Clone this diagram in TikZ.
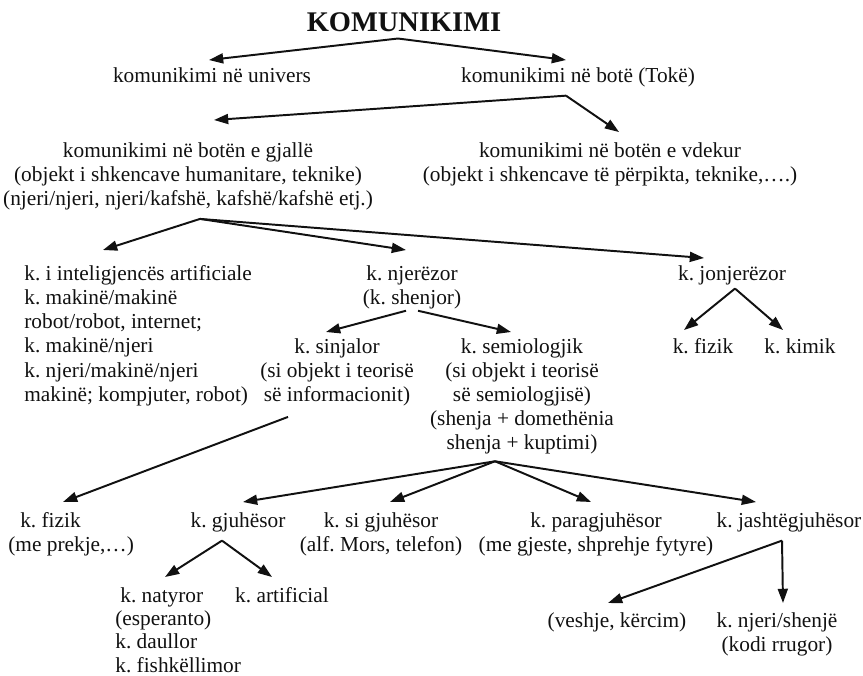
\documentclass[tikz,border=0pt]{standalone}
\usepackage{fontspec}
\setmainfont{Liberation Serif}
\usetikzlibrary{arrows.meta,calc}
\definecolor{KomInk}{HTML}{111111}
\newcommand{\KomTitle}{\fontsize{16}{18}\selectfont\bfseries}
\newcommand{\KomText}{\fontsize{12}{13.6}\selectfont\frenchspacing}
\newcommand{\KomTight}{\fontsize{12}{13.1}\selectfont\frenchspacing}
\tikzset{
  kombox/.style={
    align=center,
    anchor=north,
    inner sep=0pt,
    text=KomInk,
    font=\KomText
  },
  komleft/.style={kombox, align=left, anchor=north west},
  komarrow/.style={
    -{Triangle[length=8pt,width=5.6pt]},
    draw=KomInk,
    line width=1.1pt
  }
}
\begin{document}
\begin{tikzpicture}[x=0.5625pt,y=0.5625pt]
\path[use as bounding box] (0,-675) rectangle (863,0);

\node[kombox, anchor=center, font=\KomTitle] (title) at (404,-22) {KOMUNIKIMI};
\node[kombox] (univers) at (212,-67) {komunikimi në univers};
\node[kombox] (bote) at (578,-67) {komunikimi në botë (Tokë)};

\node[kombox] (gjalle) at (188,-142)
  {komunikimi në botën e gjallë\\
  (objekt i shkencave humanitare, teknike)\\
  (njeri/njeri, njeri/kafshë, kafshë/kafshë etj.)};
\node[kombox] (vdekur) at (610,-142)
  {komunikimi në botën e vdekur\\
  (objekt i shkencave të përpikta, teknike,….)};

\node[komleft] (inteligj) at (24,-265)
  {k. i inteligjencës artificiale\\
  k. makinë/makinë\\
  robot/robot, internet;\\
  k. makinë/njeri\\
  k. njeri/makinë/njeri\\
  makinë; kompjuter, robot)};
\node[kombox] (njerezor) at (412,-265) {k. njerëzor\\(k. shenjor)};
\node[kombox] (jonjerezor) at (732,-265) {k. jonjerëzor};

\node[kombox] (sinjalor) at (337,-338)
  {k. sinjalor\\
  (si objekt i teorisë\\
  së informacionit)};
\node[kombox] (semiologjik) at (522,-338)
  {k. semiologjik\\
  (si objekt i teorisë\\
  së semiologjisë)\\
  (shenja + domethënia\\
  shenja + kuptimi)};
\node[kombox] (fizikA) at (703,-338) {k. fizik};
\node[kombox] (kimik) at (800,-338) {k. kimik};

\node[komleft] (fizikB) at (8,-512) {\hspace{6.7pt}k. fizik\\(me prekje,…)};
\node[kombox] (gjuhesor) at (238,-512) {k. gjuhësor};
\node[kombox] (sigjuhesor) at (381,-512) {k. si gjuhësor\\(alf. Mors, telefon)};
\node[kombox] (paragjuhesor) at (596,-512) {k. paragjuhësor\\(me gjeste, shprehje fytyre)};
\node[kombox] (jashte) at (789,-512) {k. jashtëgjuhësor};

\node[komleft, font=\KomTight] (natyror) at (115,-587)
  {\hspace{2.8pt}k. natyror\\
  (esperanto)\\
  k. daullor\\
  k. fishkëllimor};
\node[kombox] (artificial) at (282,-587) {k. artificial};
\node[kombox] (veshje) at (617,-612) {(veshje, kërcim)};
\node[kombox] (njerishenje) at (777,-612) {k. njeri/shenjë\\(kodi rrugor)};

% fork points under the parent nodes
\coordinate (titlefork) at ($(title.south)+(-6,-6.6)$);
\coordinate (botefork) at ($(bote.south)+(-12,-8.6)$);
\coordinate (gjallefork) at ($(gjalle.south)+(12,-8.5)$);
\coordinate (jonjerezorfork) at ($(jonjerezor.south)+(3,-3.5)$);
\coordinate (semiofork) at ($(semiologjik.south)+(-27,-6.5)$);
\coordinate (gjuhesorfork) at ($(gjuhesor.south)+(-16,-8.5)$);
\coordinate (jashtefork) at ($(jashte.south)+(-7,-8.5)$);

\draw[komarrow] (titlefork) -- ($(univers.north)+(-3,7)$);
\draw[komarrow] (titlefork) -- ($(bote.north)+(-12,7)$);
\draw[komarrow] (botefork) -- ($(gjalle.north)+(26,22)$);
\draw[komarrow] (botefork) -- ($(vdekur.north)+(9,10)$);

\draw[komarrow] (gjallefork) -- ($(inteligj.north west)+(79,15)$);
\draw[komarrow] (gjallefork) -- ($(njerezor.north)+(-6,15)$);
\draw[komarrow] (gjallefork) -- ($(jonjerezor.north)+(-28,7)$);

\draw[komarrow] ($(njerezor.south)+(-6,-1.5)$) -- ($(sinjalor.north)+(-11,6)$);
\draw[komarrow] ($(njerezor.south)+(6,-1.5)$) -- ($(semiologjik.north)+(-11,6)$);
\draw[komarrow] (jonjerezorfork) -- ($(fizikA.north)+(-19,8)$);
\draw[komarrow] (jonjerezorfork) -- ($(kimik.north)+(-17,8)$);

\draw[komarrow] ($(sinjalor.south)+(-49,-10.5)$) -- ($(fizikB.north west)+(55,10)$);
\draw[komarrow] (semiofork) -- ($(gjuhesor.north)+(5,10)$);
\draw[komarrow] (semiofork) -- ($(sigjuhesor.north)+(9,10)$);
\draw[komarrow] (semiofork) -- ($(paragjuhesor.north)+(-5,10)$);
\draw[komarrow] (semiofork) -- ($(jashte.north)+(-33,10)$);

\draw[komarrow] (gjuhesorfork) -- ($(natyror.north west)+(50,10)$);
\draw[komarrow] (gjuhesorfork) -- ($(artificial.north)+(-10,10)$);
\draw[komarrow] (jashtefork) -- ($(veshje.north)+(-9,9)$);
\draw[komarrow] (jashtefork) -- ($(njerishenje.north)+(6,9)$);

\end{tikzpicture}
\end{document}
